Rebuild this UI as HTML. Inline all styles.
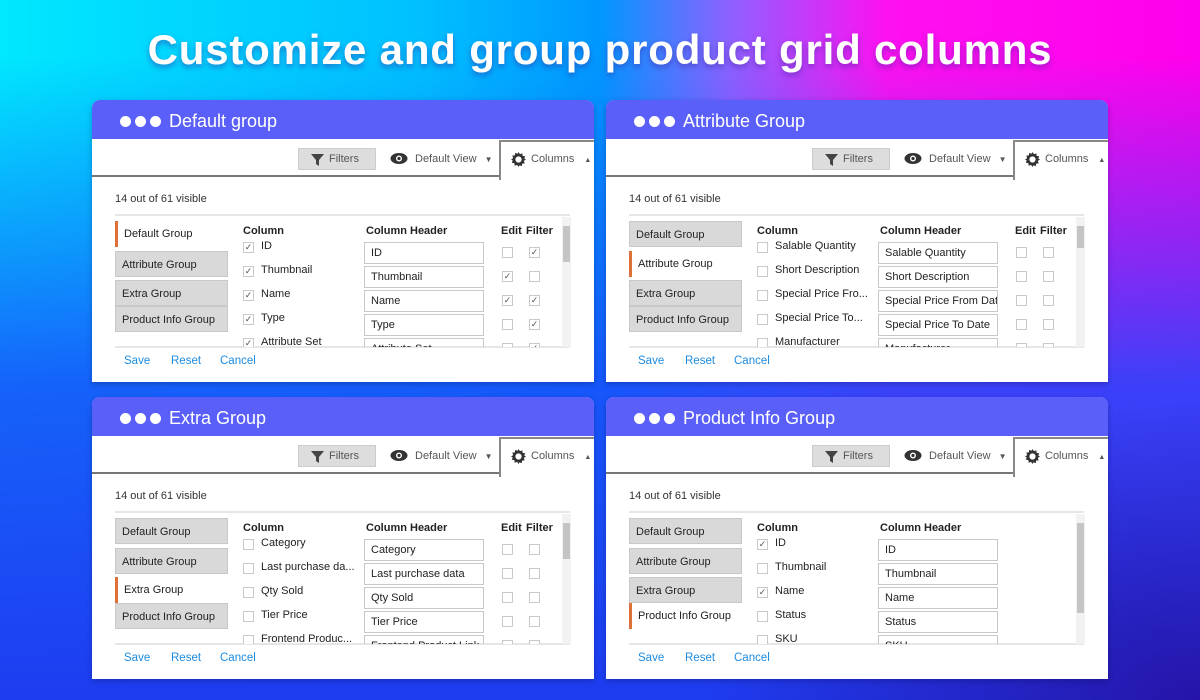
<!DOCTYPE html>
<html><head><meta charset="utf-8">
<style>
*{box-sizing:border-box;margin:0;padding:0}
body{width:1200px;height:700px;overflow:hidden;position:relative;font-family:"Liberation Sans",sans-serif;
background:
radial-gradient(ellipse 500px 300px at 100% 100%, rgba(40,10,150,0.8), rgba(40,10,150,0) 100%),
linear-gradient(180deg, rgba(25,70,255,0) 8%, rgba(25,75,250,0.85) 55%, #1e3cf0 100%),
linear-gradient(90deg,#00e8ff 0%,#00c0ff 35%,#0098ff 50%,#9060ff 61%,#ff10f0 74%,#ff00ec 100%);}
h1{position:absolute;left:0;width:1200px;top:26px;text-align:center;color:#fff;font-size:42px;font-weight:bold;letter-spacing:0.8px;text-shadow:0 3px 6px rgba(60,40,160,0.5)}
.p{position:absolute;width:502px;height:282px;background:#fff;border-radius:8px 8px 0 0;overflow:hidden;box-shadow:0 2px 6px rgba(0,0,40,0.25)}
.hd{position:absolute;left:0;top:0;width:100%;height:39px;background:#5a5ff9;color:#fff;font-size:18px;line-height:42px;padding-left:28px}
.hd b{display:inline-block;width:11px;height:11px;border-radius:50%;background:#fff;margin-right:4px;vertical-align:0}
.hd span{margin-left:4px}
.a{position:absolute}
.tb{top:39px;left:0;width:408px;height:38px;border-bottom:2px solid #777}
.filt{top:48px;left:206px;width:78px;height:22px;background:#ddd;border:1px solid #ccc;font-size:11px;color:#555;line-height:21px;padding-left:30px}
.dv{top:53px;left:300px;font-size:11px;color:#555}
.ctab{top:40px;left:407px;width:96px;height:40px;background:#fff;border-left:2px solid #888;border-top:2px solid #888;font-size:11px;color:#555;padding:11px 0 0 30px}
.vis{top:93px;left:23px;font-size:11px;color:#333}
.sep{left:23px;width:455px;height:2px;background:#e6e6e6}
.tab{left:23px;width:113px;height:26px;font-size:11px;color:#222;line-height:26px;padding-left:6px;background:#d9d9d9;border:1px solid #c8c8c8}
.tab.on{background:#fff;border:none;border-left:3px solid #e0703a;padding-left:6px}
.h{font-size:11px;font-weight:bold;color:#222}
.rows{left:0;top:117px;width:470px;height:130px;overflow:hidden}
.cb{width:11px;height:11px;border:1px solid #c9c9c9;background:#fff;font-size:9px;line-height:9px;text-align:center;color:#555}
.lb{font-size:11px;color:#222;white-space:nowrap}
.in{width:120px;height:22px;border:1px solid #c8c8c8;font-size:11px;color:#222;line-height:21px;padding-left:6px;white-space:nowrap;overflow:hidden}
.sb{left:470px;top:117px;width:9px;height:130px;background:#f2f2f2}
.ft{top:255px;font-size:11.5px;color:#1d8be0}
</style></head><body>
<h1>Customize and group product grid columns</h1>
<div id="root"></div>
<script>
const P=[
 {x:92,y:100,t:"Default group",act:0,ef:1,th:[9,36],
  r:[["ID",1,"ID",0,1],["Thumbnail",1,"Thumbnail",1,0],["Name",1,"Name",1,1],["Type",1,"Type",0,1],["Attribute Set",1,"Attribute Set",0,1]]},
 {x:606,y:100,t:"Attribute Group",act:1,ef:1,th:[9,22],
  r:[["Salable Quantity",0,"Salable Quantity",0,0],["Short Description",0,"Short Description",0,0],["Special Price Fro...",0,"Special Price From Date",0,0],["Special Price To...",0,"Special Price To Date",0,0],["Manufacturer",0,"Manufacturer",0,0]]},
 {x:92,y:397,t:"Extra Group",act:2,ef:1,th:[9,36],
  r:[["Category",0,"Category",0,0],["Last purchase da...",0,"Last purchase data",0,0],["Qty Sold",0,"Qty Sold",0,0],["Tier Price",0,"Tier Price",0,0],["Frontend Produc...",0,"Frontend Product Link",0,0]]},
 {x:606,y:397,t:"Product Info Group",act:3,ef:0,th:[9,90],
  r:[["ID",1,"ID"],["Thumbnail",0,"Thumbnail"],["Name",1,"Name"],["Status",0,"Status"],["SKU",0,"SKU"]]}
];
const tabs=["Default Group","Attribute Group","Extra Group","Product Info Group"];
const ty=[121,151,180,206];
let h="";
for(const p of P){
 let s=`<div class="p" style="left:${p.x}px;top:${p.y}px">`;
 s+=`<div class="hd"><b></b><b></b><b></b><span>${p.t}</span></div>`;
 s+=`<div class="a tb"></div>`;
 s+=`<div class="a filt"><svg style="position:absolute;left:12px;top:4px" width="13" height="13"><path d="M0 1h13L8 7v6L5 11V7z" fill="#444"/></svg>Filters</div>`;
 s+=`<div class="a dv"><svg style="position:absolute;left:-2px;top:-1px" width="18" height="13"><ellipse cx="9" cy="6.5" rx="8.5" ry="5.5" fill="#333"/><circle cx="9" cy="6.5" r="3" fill="#fff"/><circle cx="9" cy="6.5" r="1.6" fill="#333"/></svg><span style="margin-left:23px">Default View</span><span style="margin-left:8px;font-size:8px">▼</span></div>`;
 s+=`<div class="a ctab"><svg style="position:absolute;left:10px;top:10px" width="15" height="15" viewBox="0 0 16 16"><path d="M8 0l1.5 2.3 2.6-.9.3 2.7 2.7.4-.9 2.6L16 8l-2.3 1.5.9 2.6-2.7.3-.4 2.7-2.6-.9L8 16l-1.5-2.3-2.6.9-.3-2.7-2.7-.4.9-2.6L0 8l2.3-1.5-.9-2.6 2.7-.3.4-2.7 2.6.9z" fill="#333"/><circle cx="8" cy="8" r="3.3" fill="#fff"/></svg>Columns<span style="margin-left:10px;font-size:7px">▲</span></div>`;
 s+=`<div class="a vis">14 out of 61 visible</div>`;
 s+=`<div class="a sep" style="top:114px"></div><div class="a sep" style="top:246px;height:2px"></div>`;
 tabs.forEach((t,i)=>{s+=`<div class="a tab${i==p.act?' on':''}" style="top:${ty[i]}px">${t}</div>`});
 s+=`<div class="a rows">`;
 s+=`<div class="a h" style="left:151px;top:8px">Column</div><div class="a h" style="left:274px;top:8px">Column Header</div>`;
 if(p.ef) s+=`<div class="a h" style="left:409px;top:8px">Edit</div><div class="a h" style="left:434px;top:8px">Filter</div>`;
 p.r.forEach((r,i)=>{
  const y=23+i*24;
  s+=`<div class="a cb" style="left:151px;top:${y+2}px">${r[1]?'✓':''}</div><div class="a lb" style="left:169px;top:${y}px">${r[0]}</div>`;
  s+=`<div class="a in" style="left:272px;top:${y+2}px">${r[2]}</div>`;
  if(p.ef) s+=`<div class="a cb" style="left:410px;top:${y+7}px">${r[3]?'✓':''}</div><div class="a cb" style="left:437px;top:${y+7}px">${r[4]?'✓':''}</div>`;
 });
 s+=`</div>`;
 s+=`<div class="a sb"><div style="position:absolute;left:1px;top:${p.th[0]}px;width:7px;height:${p.th[1]}px;background:#c4c4c4"></div></div>`;
 s+=`<div class="a ft" style="left:32px">Save</div><div class="a ft" style="left:79px">Reset</div><div class="a ft" style="left:128px">Cancel</div>`;
 s+=`</div>`;
 h+=s;
}
document.getElementById("root").innerHTML=h;
</script>
</body></html>
